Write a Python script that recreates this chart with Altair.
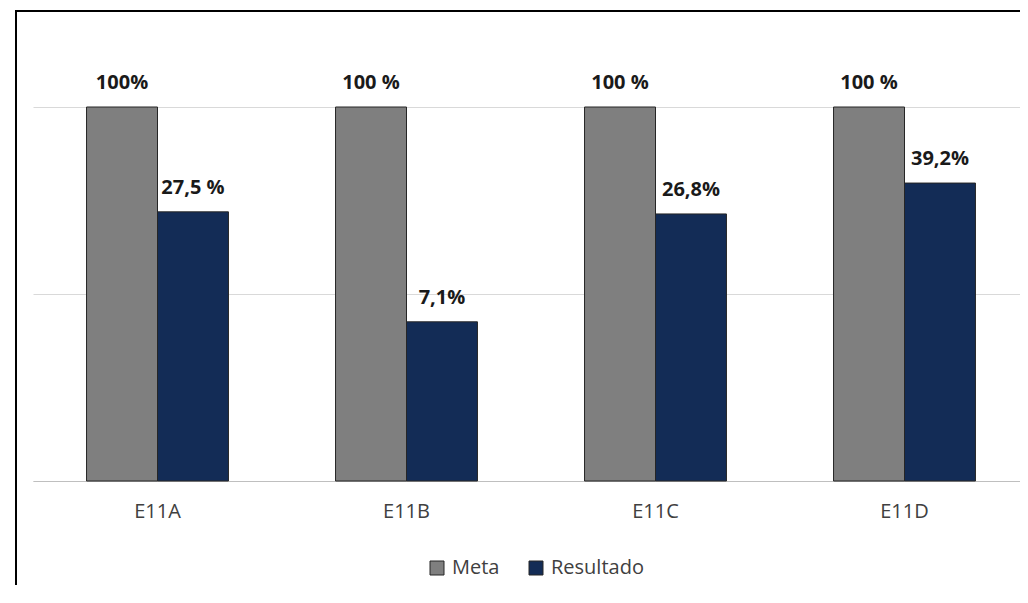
import altair as alt
import pandas as pd

categories = ["E11A", "E11B", "E11C", "E11D"]
series = ["Meta", "Resultado"]
meta_values = [100, 100, 100, 100]
resultado_values = [27.5, 7.1, 26.8, 39.2]
meta_labels = ["100%", "100 %", "100 %", "100 %"]
resultado_labels = ["27,5 %", "7,1%", "26,8%", "39,2%"]
colors = ["#7F7F7F", "#132C56"]
grid_values = [1, 10, 100]

rows = []
for i, c in enumerate(categories):
    rows.append({"cat": c, "serie": "Meta", "valor": meta_values[i], "rotulo": meta_labels[i]})
    rows.append({"cat": c, "serie": "Resultado", "valor": resultado_values[i], "rotulo": resultado_labels[i]})
df = pd.DataFrame(rows)

FONT = "Open Sans"

x_enc = alt.X(
    "cat:N",
    sort=categories,
    scale=alt.Scale(range=[0, 996], paddingInner=0.43, paddingOuter=0.215),
    axis=alt.Axis(
        title=None, ticks=False, tickSize=0, labelPadding=20, labelAngle=0,
        labelFont=FONT, labelFontSize=20, labelColor="#404040",
        domain=True, domainColor="#bfbfbf", domainWidth=1, grid=False,
    ),
)
y_scale = alt.Scale(type="log", domain=[1, 100], nice=False)
y_enc = alt.Y(
    "valor:Q",
    scale=y_scale,
    axis=alt.Axis(
        title=None, labels=False, ticks=False, domain=False,
        values=grid_values, grid=True, gridColor="#d9d9d9", gridWidth=1,
    ),
)
xo = alt.XOffset("serie:N", sort=series)

bars = alt.Chart(df).mark_bar(stroke="#262626", strokeWidth=1).encode(
    x=x_enc,
    xOffset=xo,
    y=y_enc,
    y2=alt.datum(1),
    color=alt.Color(
        "serie:N",
        sort=series,
        scale=alt.Scale(domain=series, range=colors),
        legend=alt.Legend(
            title=None, orient="none", direction="horizontal",
            legendX=394, legendY=451, padding=0,
            symbolType="square", symbolSize=196, symbolStrokeColor="#262626",
            symbolStrokeWidth=1, labelFont=FONT, labelFontSize=20,
            labelColor="#404040", labelOffset=5, columnPadding=26,
        ),
    ),
)

labels = alt.Chart(df).mark_text(
    font=FONT, fontSize=20, fontWeight="bold", color="#1a1a1a",
    baseline="middle", dy=-24,
).encode(
    x=alt.X("cat:N", sort=categories),
    xOffset=xo,
    y=alt.Y("valor:Q", scale=y_scale),
    text="rotulo:N",
)

frame = alt.Chart(alt.Data(values=[{"k": 1}])).mark_rect(
    filled=False, stroke="black", strokeWidth=2
).encode(
    x=alt.value(-17), x2=alt.value(1100), y=alt.value(-96), y2=alt.value(700)
)

chart = alt.layer(frame, bars, labels).properties(
    width=987,
    height=374,
    padding={"left": 25, "top": 99, "right": 0, "bottom": 104},
    autosize=alt.AutoSizeParams(type="none"),
).configure(
    font=FONT, background="white", view=alt.ViewConfig(stroke=None)
)

chart.save("out.html", embed_options={"renderer": "svg", "actions": False})
